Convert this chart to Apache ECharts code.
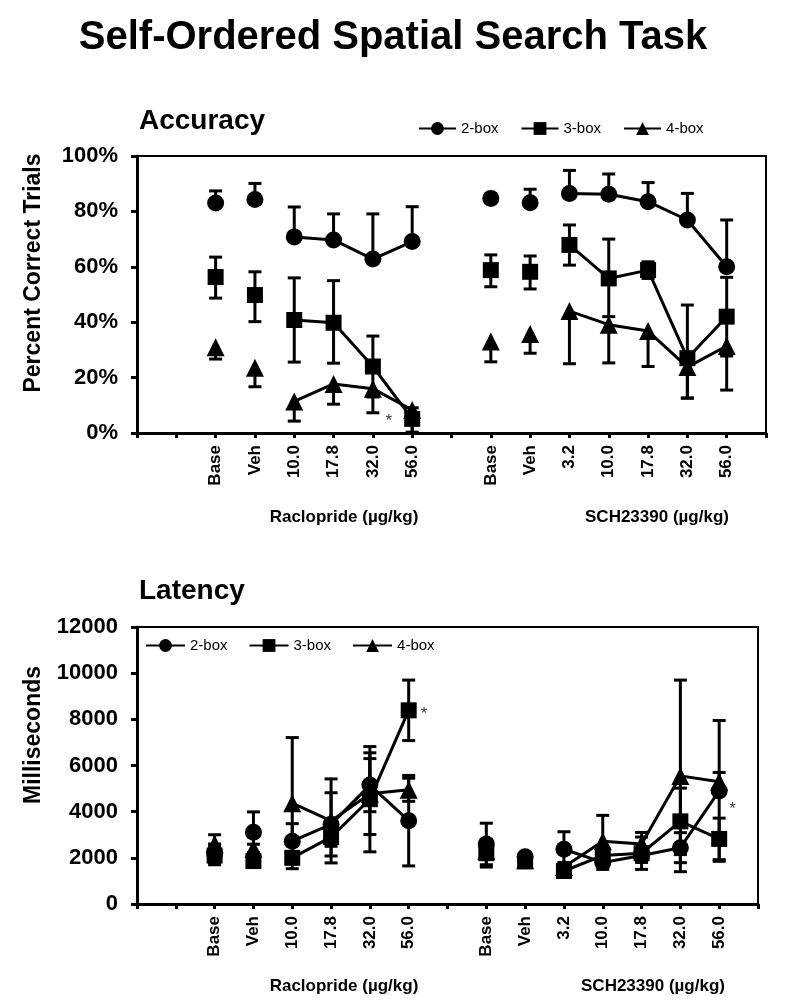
<!DOCTYPE html>
<html><head><meta charset="utf-8">
<script src="https://cdn.jsdelivr.net/npm/echarts@6/dist/echarts.min.js"></script>
<style>html,body{margin:0;padding:0;background:#fff}#c{width:800px;height:1004px}</style>
</head><body><div id="c"></div>
<script>
// ---------- DATA ----------
const categories = ['', '', 'Base', 'Veh', '10.0', '17.8', '32.0', '56.0', '', 'Base', 'Veh', '3.2', '10.0', '17.8', '32.0', '56.0', ''];
const seriesNames = ['2-box', '3-box', '4-box'];
const drugNames = ['Raclopride (µg/kg)', 'SCH23390 (µg/kg)'];
const yTicksAcc = [0, 20, 40, 60, 80, 100];
const yTicksLat = [0, 2000, 4000, 6000, 8000, 10000, 12000];

// Accuracy (% correct trials)
const acc2box   = [null, null, 83.0, 84.3, 70.8, 69.7, 62.8, 69.1, null, 84.7, 83.1, 86.5, 86.2, 83.5, 76.9, 60.0, null];
const acc2boxUp = [null, null, 4.4, 5.8, 10.8, 9.4, 16.3, 12.6, null, 0, 4.9, 8.3, 7.3, 6.9, 9.6, 16.9, null];
const acc2boxDn = [null, null, 0, 0, 0, 0, 0, 0, null, 0, 0, 0, 0, 0, 0, 0, null];
const acc3box   = [null, null, 56.3, 49.8, 40.8, 39.8, 24.0, 5.1, null, 58.8, 58.2, 67.9, 55.8, 58.8, 27.0, 42.0, null];
const acc3boxUp = [null, null, 7.2, 8.4, 15.2, 15.2, 11.0, 4.0, null, 5.5, 5.7, 7.2, 14.2, 3.0, 19.2, 14.2, null];
const acc3boxDn = [null, null, 7.6, 9.6, 15.2, 14.6, 11.0, 5.1, null, 6.0, 6.2, 7.3, 13.8, 3.0, 14.4, 14.2, null];
const acc4box   = [null, null, 31.0, 23.6, 11.4, 17.7, 16.0, 8.3, null, 33.0, 35.7, 44.0, 39.1, 36.8, 23.8, 31.4, null];
const acc4boxUp = [null, null, 0, 0, 0, 0, 0, 0, null, 0, 0, 0, 0, 0, 0, 0, null];
const acc4boxDn = [null, null, 4.3, 6.9, 7.1, 7.3, 8.7, 8.0, null, 7.3, 6.9, 19.0, 13.8, 12.8, 11.2, 15.9, null];

// Latency (milliseconds)
const lat2box   = [null, null, 2200, 3110, 2720, 3450, 5150, 3610, null, 2600, 2050, 2370, 1800, 2100, 2440, 4900, null];
const lat2boxEr = [null, null, 400, 880, 760, 1370, 1150, 1960, null, 900, 150, 760, 300, 300, 650, 3050, null];
const lat3box   = [null, null, 2100, 1860, 2000, 2900, 4540, 8390, null, 2200, 1850, 1430, 2100, 2200, 3580, 2820, null];
const lat3boxEr = [null, null, 400, 200, 200, 400, 2280, 1310, null, 600, 150, 200, 300, 700, 1440, 900, null];
const lat4box   = [null, null, 2600, 2390, 4370, 3600, 4780, 4950, null, 2300, 1900, 1600, 2720, 2600, 5550, 5300, null];
const lat4boxEr = [null, null, 400, 200, 2840, 1820, 1770, 500, null, 300, 150, 200, 1120, 500, 4150, 400, null];

// significance markers: [seriesName, category index]
const accStars = [['3-box', 7]];
const latStars = [['3-box', 7], ['2-box', 15]];

// ---------- STYLE ----------
const FONT = '"Liberation Sans", Arial, sans-serif';
const BLACK = '#000';
const symbols = { '2-box': ['circle', 17], '3-box': ['rect', 16], '4-box': ['triangle', 18] };
const isBaseVeh = i => categories[i] === 'Base' || categories[i] === 'Veh';
const isDose = i => categories[i] !== '' && !isBaseVeh(i);

function errRender(params, api) {
  const i = api.value(0), v = api.value(1), p = api.value(2), m = api.value(3);
  const t = api.coord([i, v + p]);
  const b = api.coord([i, v - m]);
  const x = t[0], hw = 6.5;
  const st = { stroke: BLACK, lineWidth: 3 };
  const ch = [{ type: 'line', shape: { x1: x, y1: t[1], x2: x, y2: b[1] }, style: st }];
  if (p > 0) ch.push({ type: 'line', shape: { x1: x - hw, y1: t[1], x2: x + hw, y2: t[1] }, style: st });
  if (m > 0) ch.push({ type: 'line', shape: { x1: x - hw, y1: b[1], x2: x + hw, y2: b[1] }, style: st });
  return { type: 'group', children: ch };
}

function panelSeries(ax, name, vals, up, dn, stars, starStyles) {
  const [sym, size] = symbols[name];
  const out = [];
  out.push({
    type: 'custom', name: name + ' error', xAxisIndex: ax, yAxisIndex: ax, silent: true, z: 1,
    renderItem: errRender, encode: { x: 0, y: 1 },
    data: vals.map((v, i) => v == null ? null : [i, v, up[i] || 0, dn[i] || 0]).filter(Boolean)
  });
  out.push({
    type: 'line', name: name, xAxisIndex: ax, yAxisIndex: ax, z: 3,
    symbol: sym, symbolSize: size, connectNulls: false, silent: true,
    lineStyle: { color: BLACK, width: 3 }, itemStyle: { color: BLACK, opacity: 1 },
    data: vals.map((v, i) => isDose(i) ? v : null)
  });
  out.push({
    type: 'scatter', name: name + ' ref', xAxisIndex: ax, yAxisIndex: ax, z: 3,
    symbol: sym, symbolSize: size, silent: true, itemStyle: { color: BLACK, opacity: 1 },
    data: vals.map((v, i) => [i, v]).filter(d => isBaseVeh(d[0]))
  });
  stars.filter(s => s[0] === name).forEach(s => {
    const stl = starStyles[name];
    out.push({
      type: 'scatter', name: name + ' sig', xAxisIndex: ax, yAxisIndex: ax, z: 4, silent: true,
      symbolSize: 0.1, itemStyle: { color: 'rgba(0,0,0,0)' },
      label: { show: true, formatter: '*', position: stl.pos, distance: stl.dist, offset: stl.off,
               color: BLACK, fontSize: 17, fontFamily: FONT },
      data: [[s[1], vals[s[1]]]]
    });
  });
  return out;
}

const accStarStyle = { '3-box': { pos: 'left', dist: 20, off: [0, 2] } };
const latStarStyle = { '3-box': { pos: 'right', dist: 12, off: [0, 4] }, '2-box': { pos: 'right', dist: 10, off: [0, 18] } };

let series = [];
[[acc2box, acc2boxUp, acc2boxDn], [acc3box, acc3boxUp, acc3boxDn], [acc4box, acc4boxUp, acc4boxDn]]
  .forEach((d, k) => { series = series.concat(panelSeries(0, seriesNames[k], d[0], d[1], d[2], accStars, accStarStyle)); });
[[lat2box, lat2boxEr], [lat3box, lat3boxEr], [lat4box, lat4boxEr]]
  .forEach((d, k) => { series = series.concat(panelSeries(1, seriesNames[k], d[0], d[1], d[1], latStars, latStarStyle)); });

function xAxisCfg(gi) {
  return {
    type: 'category', gridIndex: gi, data: categories, boundaryGap: false,
    axisLine: { show: true, lineStyle: { color: BLACK, width: 3 } },
    axisTick: { show: true, interval: 0, length: 5, lineStyle: { color: BLACK, width: 3 } },
    axisLabel: { interval: 0, rotate: 90, margin: 12, color: BLACK, fontSize: 17, fontWeight: 'bold', fontFamily: FONT },
    splitLine: { show: false }
  };
}
function yAxisCfg(gi, ticks, fmt) {
  return {
    type: 'value', gridIndex: gi, min: ticks[0], max: ticks[ticks.length - 1], interval: ticks[1] - ticks[0],
    axisLine: { show: true, lineStyle: { color: BLACK, width: 3 } },
    axisTick: { show: true, length: 6, lineStyle: { color: BLACK, width: 3 } },
    axisLabel: { formatter: fmt, margin: 19, color: BLACK, fontSize: 22, fontWeight: 'bold', fontFamily: FONT },
    splitLine: { show: false }
  };
}

const legendText = { color: BLACK, fontSize: 15, fontFamily: FONT };
function txt(text, x, y, size, opts) {
  return Object.assign({ type: 'text', x: x, y: y, z: 10,
    style: { text: text, fill: BLACK, font: 'bold ' + size + 'px ' + FONT, textAlign: 'center', textVerticalAlign: 'middle' } }, opts || {});
}

const option = {
  backgroundColor: '#fff',
  animation: false,
  grid: [
    { left: 137, top: 156, width: 629, height: 277, show: true, borderColor: BLACK, borderWidth: 2 },
    { left: 137, top: 627, width: 621, height: 277, show: true, borderColor: BLACK, borderWidth: 2 }
  ],
  xAxis: [xAxisCfg(0), xAxisCfg(1)],
  yAxis: [yAxisCfg(0, yTicksAcc, v => v + '%'), yAxisCfg(1, yTicksLat, v => String(v))],
  legend: [
    { data: seriesNames, left: 418, top: 121, padding: 0, itemWidth: 37, itemHeight: 16, itemGap: 22, textStyle: legendText, selectedMode: false },
    { data: seriesNames, left: 145, top: 638, padding: 0, itemWidth: 39, itemHeight: 16, itemGap: 21, textStyle: legendText, selectedMode: false }
  ],
  graphic: [
    txt('Self-Ordered Spatial Search Task', 393, 38, 40),
    txt('Accuracy', 139, 121, 28, {}),
    txt('Latency', 139, 591, 28, {}),
    txt('Percent Correct Trials', 34, 273, 23, { rotation: Math.PI / 2 }),
    txt('Milliseconds', 34, 735, 23, { rotation: Math.PI / 2 }),
    txt(drugNames[0], 344, 517, 17),
    txt(drugNames[1], 657, 517, 17),
    txt(drugNames[0], 344, 986, 17),
    txt(drugNames[1], 653, 986, 17)
  ],
  series: series
};
option.graphic[1].style.textAlign = 'left';
option.graphic[2].style.textAlign = 'left';

const chart = echarts.init(document.getElementById('c'), null, { renderer: 'canvas' });
chart.setOption(option);
</script>
</body></html>
